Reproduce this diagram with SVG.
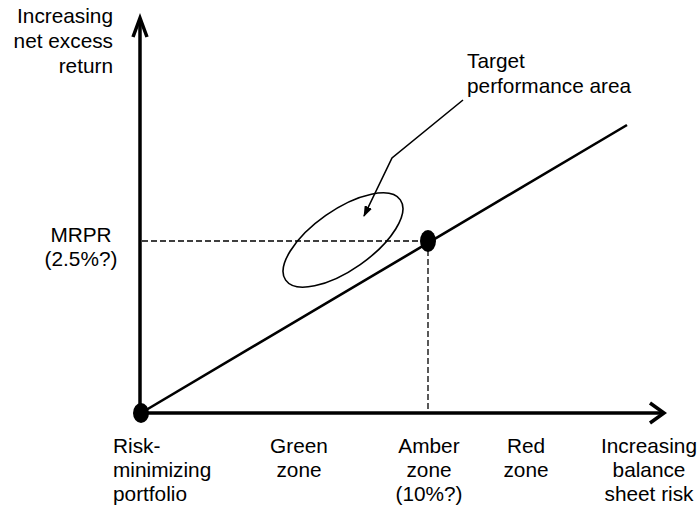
<svg xmlns="http://www.w3.org/2000/svg" width="699" height="510" viewBox="0 0 699 510">
  <style>
    text { font-family: "Liberation Sans", Arial, Helvetica, sans-serif; font-size: 20.8px; fill: #000; }
    .axis { fill: none; stroke: #000; stroke-width: 3.5; stroke-linejoin: miter; }
    .line { fill: none; stroke: #000; stroke-width: 2.6; }
    .dash { fill: none; stroke: #000; stroke-width: 1.3; stroke-dasharray: 6 3; }
    .thin { fill: none; stroke: #000; stroke-width: 1.6; }
    .mid { text-anchor: middle; }
    .end { text-anchor: end; }
  </style>
  <defs>
    <marker id="callout-head" viewBox="0 0 11 8" refX="10" refY="4" markerWidth="11" markerHeight="8" markerUnits="userSpaceOnUse" orient="auto">
      <path d="M0,0 L11,4 L0,8 Z" fill="#000"/>
    </marker>
  </defs>
  <rect width="699" height="510" fill="#fff"/>

  <g id="connectors">
    <!-- guide lines to the MRPR point -->
    <line class="dash" x1="142" y1="241" x2="428" y2="241"/>
    <line class="dash" x1="428" y1="241" x2="428" y2="411"/>
    <!-- risk/return line -->
    <line class="line" x1="141" y1="413" x2="627" y2="125"/>
    <!-- callout pointer -->
    <polyline class="thin" points="463,100 392,158 364,216" marker-end="url(#callout-head)"/>
  </g>

  <g id="y-axis">
    <line class="axis" x1="140" y1="413" x2="140" y2="19"/>
    <polyline class="axis" points="133,37 140,18 147,37"/>
  </g>

  <g id="x-axis">
    <line class="axis" x1="140" y1="413" x2="663" y2="413"/>
    <polyline class="axis" points="650,403 664,413 650,423"/>
  </g>

  <g id="target-area">
    <ellipse class="thin" cx="343" cy="240" rx="70" ry="30" transform="rotate(-35 343 240)"/>
  </g>

  <g id="origin-point">
    <ellipse cx="141" cy="413" rx="8" ry="10" fill="#000"/>
  </g>

  <g id="mrpr-point">
    <ellipse cx="428" cy="241" rx="8" ry="11" fill="#000"/>
  </g>

  <g id="y-label">
    <text class="end" x="113" y="23">Increasing</text>
    <text class="end" x="113" y="48">net excess</text>
    <text class="end" x="113" y="73">return</text>
  </g>

  <g id="target-label">
    <text x="467" y="68">Target</text>
    <text x="467" y="93">performance area</text>
  </g>

  <g id="mrpr-label">
    <text class="mid" x="81" y="242">MRPR</text>
    <text class="mid" x="81" y="266">(2.5%?)</text>
  </g>

  <g id="risk-minimizing-label">
    <text x="113" y="453">Risk-</text>
    <text x="113" y="477">minimizing</text>
    <text x="113" y="501">portfolio</text>
  </g>

  <g id="green-zone-label">
    <text class="mid" x="299" y="453">Green</text>
    <text class="mid" x="299" y="477">zone</text>
  </g>

  <g id="amber-zone-label">
    <text class="mid" x="429" y="453">Amber</text>
    <text class="mid" x="429" y="477">zone</text>
    <text class="mid" x="429" y="501">(10%?)</text>
  </g>

  <g id="red-zone-label">
    <text class="mid" x="526" y="453">Red</text>
    <text class="mid" x="526" y="477">zone</text>
  </g>

  <g id="x-label">
    <text class="mid" x="649" y="453">Increasing</text>
    <text class="mid" x="649" y="477">balance</text>
    <text class="mid" x="649" y="501">sheet risk</text>
  </g>
</svg>
